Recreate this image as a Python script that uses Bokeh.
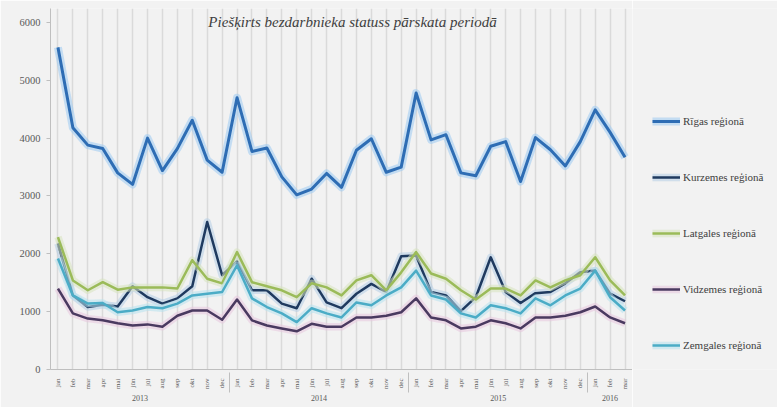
from math import pi
from bokeh.plotting import figure
from bokeh.layouts import row
from bokeh.models import (FactorRange, Range1d, FixedTicker, Legend, LegendItem,
                          Label, ColumnDataSource)
from bokeh.embed import file_html
from bokeh.resources import INLINE

# ---------------- data ----------------
month_names = ["jan", "feb", "mar", "apr", "mai", "jūn", "jūl", "aug", "sep", "okt", "nov", "dec"]
years = ["2013"] * 12 + ["2014"] * 12 + ["2015"] * 12 + ["2016"] * 3
months = month_names * 3 + month_names[:3]

riga = [5570, 4180, 3880, 3820, 3400, 3200, 4000, 3440, 3820, 4310, 3620, 3410,
        4700, 3770, 3830, 3330, 3020, 3120, 3390, 3150, 3790, 3990, 3410, 3500,
        4780, 3970, 4060, 3400, 3350, 3860, 3940, 3250, 4010, 3800, 3520, 3940,
        4490, 4100, 3670]
kurzeme = [2180, 1280, 1080, 1120, 1090, 1440, 1250, 1140, 1230, 1440, 2550, 1630,
           1870, 1370, 1370, 1140, 1060, 1570, 1160, 1060, 1310, 1480, 1340, 1960,
           1970, 1340, 1280, 1010, 1250, 1940, 1340, 1150, 1320, 1340, 1490, 1680,
           1710, 1310, 1180]
latgale = [2290, 1540, 1370, 1510, 1380, 1420, 1420, 1420, 1400, 1890, 1570, 1490,
           2030, 1510, 1440, 1370, 1250, 1490, 1420, 1280, 1540, 1630, 1370, 1680,
           2030, 1660, 1570, 1370, 1210, 1400, 1400, 1280, 1540, 1420, 1540, 1630,
           1940, 1540, 1280]
vidzeme = [1400, 970, 880, 850, 800, 760, 780, 740, 930, 1020, 1020, 860,
           1210, 850, 760, 710, 660, 790, 740, 740, 900, 900, 930, 990,
           1230, 900, 850, 710, 740, 850, 800, 710, 900, 900, 930, 990,
           1090, 900, 800]
zemgale = [1920, 1280, 1140, 1150, 990, 1020, 1080, 1060, 1140, 1280, 1310, 1340,
           1800, 1230, 1080, 970, 820, 1060, 970, 900, 1160, 1110, 1280, 1420,
           1710, 1280, 1210, 970, 900, 1110, 1060, 970, 1230, 1110, 1280, 1400,
           1710, 1250, 1020]

series_names = ["Rīgas reģionā", "Kurzemes reģionā", "Latgales reģionā",
                "Vidzemes reģionā", "Zemgales reģionā"]
y_ticks = [0, 1000, 2000, 3000, 4000, 5000, 6000]
title_text = "Piešķirts bezdarbnieka statuss pārskata periodā"

# ---------------- styling ----------------
line_colors = ["#2E6DB4", "#1F3A5F", "#9BBB59", "#4A3A60", "#4BACC6"]
glow_colors = ["#9DCBF2", "#B4CDE6", "#D7E4BD", "#E8C6DE", "#B7E1EE"]
line_widths = [3, 2.5, 2.5, 2.5, 2.5]
BG = "#F2F2F2"

factors = list(zip(years, months))
src = ColumnDataSource(dict(x=factors, riga=riga, kurzeme=kurzeme, latgale=latgale,
                            vidzeme=vidzeme, zemgale=zemgale))
cols = ["riga", "kurzeme", "latgale", "vidzeme", "zemgale"]

xr = FactorRange(*factors, factor_padding=0, group_padding=0, range_padding=0)

# frame spans 8..369 px vertically; 0..6000 occupies 22..369, headroom for the title
p = figure(width=632, height=407, x_range=xr, y_range=Range1d(0, 6242),
           output_backend="svg", toolbar_location=None,
           min_border_left=50, min_border_right=0, min_border_top=8,
           min_border_bottom=38)
p.background_fill_color = BG
p.border_fill_color = BG
p.outline_line_color = None

# grids
p.ygrid.grid_line_color = None
p.xgrid.grid_line_color = "#DADADA"
p.xgrid.grid_line_width = 1.5

# y axis
p.yaxis.ticker = FixedTicker(ticks=y_ticks)
p.yaxis.minor_tick_line_color = None
p.yaxis.major_tick_in = 0
p.yaxis.major_tick_out = 4
p.yaxis.axis_line_color = "#BFBFBF"
p.yaxis.major_tick_line_color = "#BFBFBF"
p.yaxis.major_label_text_font = "Liberation Serif"
p.yaxis.major_label_text_font_size = "10.5px"
p.yaxis.major_label_text_color = "#595959"
p.yaxis.major_label_standoff = 6

# x axis
xa = p.xaxis[0]
xa.axis_line_color = "#BFBFBF"
xa.major_tick_line_color = None
xa.major_label_orientation = pi / 2
xa.major_label_text_font = "Liberation Serif"
xa.major_label_text_font_size = "7px"
xa.major_label_text_color = "#595959"
xa.major_label_standoff = 3
xa.group_text_font = "Liberation Serif"
xa.group_text_font_size = "8px"
xa.group_text_color = "#595959"
xa.group_text_font_style = "normal"
xa.group_label_orientation = "horizontal"
xa.separator_line_color = "#BFBFBF"
xa.separator_line_width = 1

for col, lc, gc, lw in zip(cols, line_colors, glow_colors, line_widths):
    p.line("x", col, source=src, line_color=gc, line_width=lw + 5, line_alpha=0.55,
           line_join="round")
    p.line("x", col, source=src, line_color=lc, line_width=lw, line_join="round")

title = Label(x=302, y=348, x_units="screen", y_units="screen", text=title_text,
              text_font="Liberation Serif", text_font_style="italic",
              text_font_size="15px", text_color="#404040", text_align="center",
              text_baseline="middle")
p.add_layout(title)

# ---------------- legend panel (separate figure on the right) ----------------
# same data, drawn off-screen (y range below zero), only the legend is visible
p2 = figure(width=145, height=407, x_range=xr, y_range=Range1d(-2, -1),
            x_axis_type=None, y_axis_type=None, output_backend="svg",
            toolbar_location=None, min_border=0)
p2.background_fill_color = BG
p2.border_fill_color = BG
p2.outline_line_color = None
p2.grid.visible = False

items = []
for col, name, lc, gc, lw in zip(cols, series_names, line_colors, glow_colors, line_widths):
    g = p2.line("x", col, source=src, line_color=gc, line_width=lw + 5,
                line_alpha=0.55)
    m = p2.line("x", col, source=src, line_color=lc, line_width=lw)
    items.append(LegendItem(label=name, renderers=[g, m]))

legend = Legend(items=items, location=(20, 14), orientation="vertical",
                label_text_font="Liberation Serif", label_text_font_size="11px",
                label_text_color="#404040", background_fill_alpha=0,
                border_line_color=None, glyph_width=28, glyph_height=20,
                label_height=20, spacing=36, padding=0, margin=0, label_standoff=3)
p2.add_layout(legend, "center")

layout = row(p, p2, spacing=0)
open("out.html", "w").write(file_html(layout, INLINE))
